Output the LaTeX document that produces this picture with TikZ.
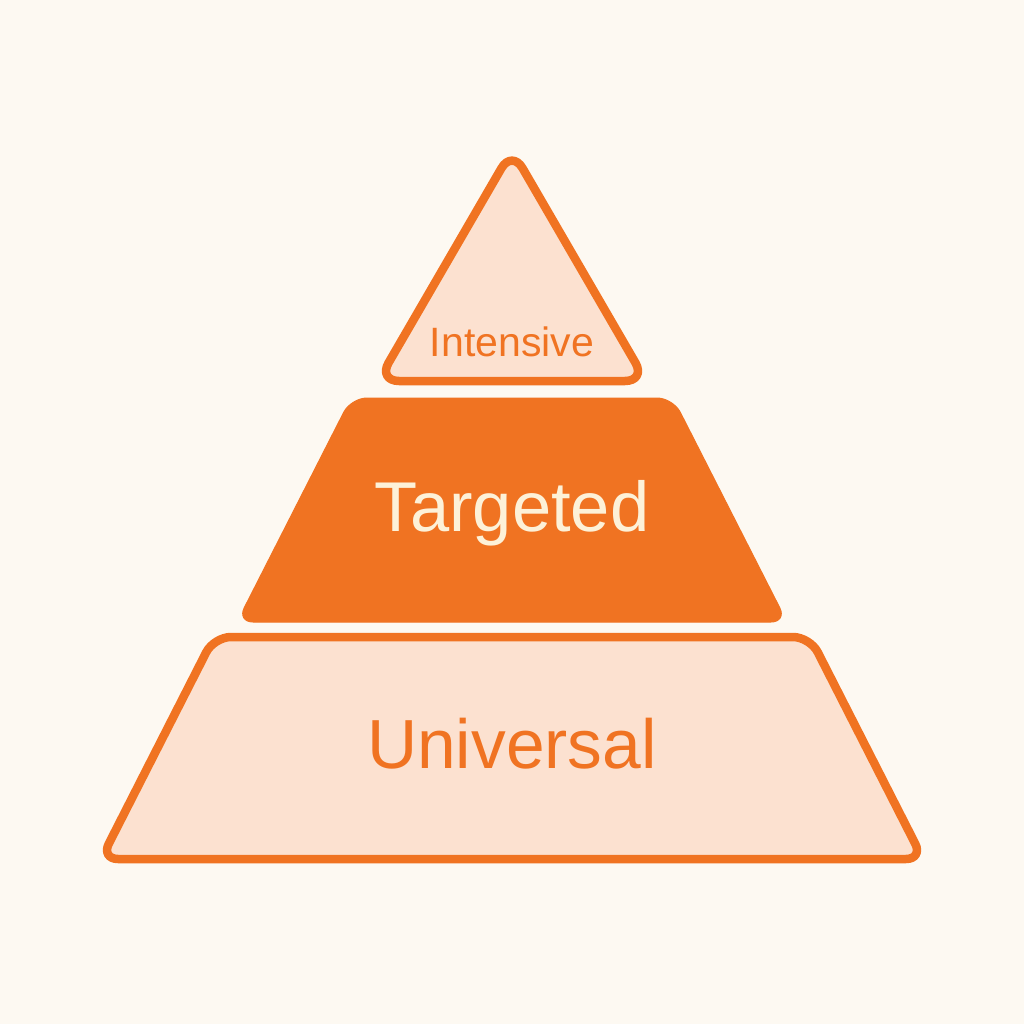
\documentclass[tikz,border=0pt]{standalone}
\usepackage{fontspec}
\setmainfont{Liberation Sans}
\definecolor{paper}{HTML}{FDF9F2}
\definecolor{tierorange}{HTML}{F07322}
\definecolor{tierlight}{HTML}{FCE1D0}
\definecolor{tiercream}{HTML}{FDF1D8}
\begin{document}
\begin{tikzpicture}[x=1pt,y=-1pt,
    tier/.style={draw=tierorange,line width=8.5pt,rounded corners=17pt,line join=round},
    label/.style={anchor=base,text=tierorange,inner sep=0pt}]
  \fill[paper] (0,0) rectangle (1024,1024);
  \useasboundingbox (0,0) rectangle (1024,1024);
  % tiers, top to bottom
  \draw[tier,fill=tierlight,rounded corners=21pt] (512,150) -- (646,381) -- (378,381) -- cycle;
  \draw[tier,fill=tierorange,line width=1pt,rounded corners=16pt]
    (351,398) -- (673,398) -- (787,622) -- (237,622) -- cycle;
  \draw[tier,fill=tierlight] (214,637) -- (810,637) -- (923,859) -- (101,859) -- cycle;
  % labels
  \node[label,font=\fontsize{41}{41}\selectfont] (intensive) at (512,356) {Intensive};
  \node[label,text=tiercream,font=\fontsize{70.5}{70.5}\selectfont] (targeted) at (512,531) {Targeted};
  \node[label,font=\fontsize{69.5}{69.5}\selectfont] (universal) at (512,768) {Universal};
\end{tikzpicture}
\end{document}
